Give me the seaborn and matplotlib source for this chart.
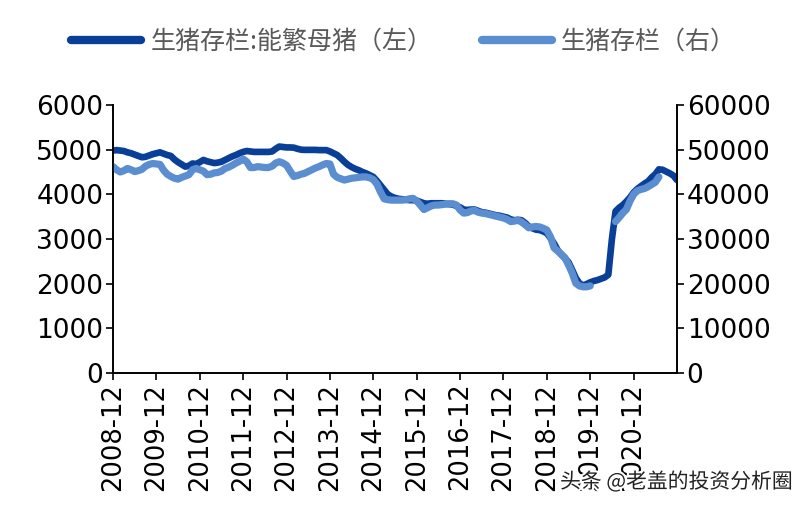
import numpy as np
import pandas as pd
import matplotlib
matplotlib.use("Agg")
import matplotlib.pyplot as plt
import matplotlib.patheffects as pe
from matplotlib.lines import Line2D
import seaborn as sns

# ---- data (monthly, 2008-12 .. 2021-12) ----
start_month = "2008-12"
sows = [
    4980, 4990, 4980, 4970, 4940, 4920, 4890, 4860, 4830, 4840,
    4870, 4900, 4920, 4940, 4910, 4880, 4860, 4780, 4720, 4670,
    4620, 4640, 4690, 4680, 4720, 4770, 4740, 4720, 4700, 4710,
    4730, 4770, 4810, 4850, 4880, 4920, 4950, 4970, 4960, 4950,
    4950, 4950, 4950, 4950, 4960, 5020, 5070, 5060, 5050, 5050,
    5045, 5020, 5000, 4995, 4995, 4995, 4995, 4990, 4990, 4990,
    4960, 4920, 4880, 4810, 4730, 4660, 4610, 4570, 4540, 4500,
    4470, 4430, 4390, 4300, 4200, 4100, 4000, 3950, 3920, 3900,
    3890, 3880, 3870, 3870, 3860, 3830, 3800, 3790, 3800, 3800,
    3800, 3800, 3790, 3780, 3770, 3740, 3710, 3660, 3650, 3660,
    3660, 3630, 3600, 3590, 3570, 3550, 3530, 3520, 3500, 3480,
    3440, 3420, 3430, 3420, 3360, 3280, 3240, 3210, 3200, 3170,
    3130, 3020, 2900, 2750, 2650, 2570, 2480, 2310, 2130, 2010,
    1960, 1990, 2030, 2060, 2080, 2110, 2140, 2200, 3000, 3620,
    3700, 3760, 3840, 3930, 4040, 4120, 4180, 4240, 4290, 4380,
    4450, 4560, 4550, 4510, 4470, 4420, 4320,
]
hogs = [
    46200, 45500, 45000, 45300, 45800, 45500, 45100, 45300, 45600, 46300,
    46700, 46900, 46800, 46700, 45400, 44500, 44000, 43600, 43400, 43800,
    44100, 44400, 45500, 45800, 45500, 45200, 44400, 44500, 44800, 44900,
    45200, 45800, 46100, 46500, 47000, 47400, 47900, 47300, 46000, 46000,
    46200, 46100, 46000, 46000, 46300, 47000, 47300, 47000, 46500, 45200,
    44000, 44200, 44500, 44700, 45100, 45500, 45900, 46200, 46600, 46900,
    46800, 44500, 43800, 43500, 43200, 43400, 43600, 43700, 43800, 43900,
    43900, 43700, 43300, 42300, 40500, 39000, 38800, 38700, 38700, 38700,
    38700, 38800, 39000, 39100, 38500, 37600, 36600, 37000, 37400, 37600,
    37600, 37700, 37800, 37900, 37900, 37600, 36500, 35800, 35900, 36300,
    36400, 36000, 35800, 35700, 35500, 35300, 35100, 34900, 34700, 34400,
    33900, 34000, 34200, 33800, 33200, 32500, 32700, 32800, 32700, 32400,
    32000, 30500, 28000, 27300, 26600, 25800, 24200, 22400, 20100, 19500,
    19300, 19300, 19500, np.nan, np.nan, np.nan, np.nan, np.nan, np.nan, 33900,
    34800, 35800, 36600, 38500, 40000, 40800, 41100, 41300, 41700, 42200,
    42700, 43900, np.nan, np.nan, np.nan, np.nan, np.nan,
]
tick_labels = ["2008-12", "2009-12", "2010-12", "2011-12", "2012-12", "2013-12",
               "2014-12", "2015-12", "2016-12", "2017-12", "2018-12", "2019-12",
               "2020-12"]
left_ticks = [0, 1000, 2000, 3000, 4000, 5000, 6000]
right_ticks = [0, 10000, 20000, 30000, 40000, 50000, 60000]
label_sows = "生猪存栏:能繁母猪（左）"
label_hogs = "生猪存栏（右）"
watermark = "头条 @老盖的投资分析圈"

months = pd.period_range(start_month, periods=len(sows), freq="M")
df = pd.DataFrame({"t": np.arange(len(sows)), "month": months.astype(str),
                   "sows": sows, "hogs": hogs})
# light series has a data gap: split it into contiguous segments
df["seg"] = df["hogs"].isna().cumsum()
hog_df = df.dropna(subset=["hogs"])

sns.set_theme(style="ticks")
plt.rcParams["font.family"] = ["DejaVu Sans", "Noto Sans CJK SC"]

DARK = "#0A3F98"
LIGHT = "#5A8ED0"

fig = plt.figure(figsize=(8.01, 5.05), dpi=100)
ax = fig.add_axes([113 / 801, 1 - 373 / 505, 564 / 801, 268 / 505])
ax2 = ax.twinx()

sns.lineplot(data=df, x="t", y="sows", ax=ax, color=DARK, lw=4.8,
             solid_capstyle="round", solid_joinstyle="round", legend=False)
for _, g in hog_df.groupby("seg"):
    sns.lineplot(data=g, x="t", y="hogs", ax=ax2, color=LIGHT, lw=5.2,
                 solid_capstyle="round", solid_joinstyle="round", legend=False)

ax.set_xlim(0, len(sows) - 1)
ax.set_ylim(0, 6000)
ax2.set_ylim(0, 60000)
ax.set_xticks(np.arange(0, 12 * len(tick_labels), 12))
ax.set_xticklabels(tick_labels, rotation=90)
ax.set_yticks(left_ticks)
ax.set_yticklabels([str(v) for v in left_ticks])
ax2.set_yticks(right_ticks)
ax2.set_yticklabels([str(v) for v in right_ticks])
ax.set_xlabel("")
ax.set_ylabel("")
ax2.set_ylabel("")

for a in (ax, ax2):
    a.grid(False)
    a.spines["top"].set_visible(False)
    for s in ("left", "right", "bottom"):
        a.spines[s].set_color("black")
        a.spines[s].set_linewidth(1.2)
ax.tick_params(axis="y", direction="out", length=5, width=1.2,
               labelsize=19, colors="black", pad=2)
ax.tick_params(axis="x", direction="out", length=5, width=1.2,
               labelsize=18.5, colors="black", pad=2)
ax2.tick_params(axis="y", direction="out", length=5, width=1.2,
                labelsize=19, colors="black", pad=2)
ax2.patch.set_visible(False)

handles = [Line2D([], [], color=DARK, lw=6, solid_capstyle="round"),
           Line2D([], [], color=LIGHT, lw=6, solid_capstyle="round")]
leg = fig.legend(handles, [label_sows, label_hogs], loc="center",
                 bbox_to_anchor=(0.504, 1 - 42 / 505), ncol=2, frameon=False,
                 handlelength=2.8, handletextpad=0.35, columnspacing=2.0,
                 prop={"family": ["Noto Sans CJK SC", "DejaVu Sans"], "size": 18})
for t in leg.get_texts():
    t.set_color("#595959")

fig.text(560 / 801, 1 - 482 / 505, watermark, ha="left", va="center",
         fontsize=15, color="#222222", family=["Noto Sans CJK SC", "DejaVu Sans"],
         path_effects=[pe.withStroke(linewidth=3, foreground="white")])

fig.savefig("out.png", dpi=100)
